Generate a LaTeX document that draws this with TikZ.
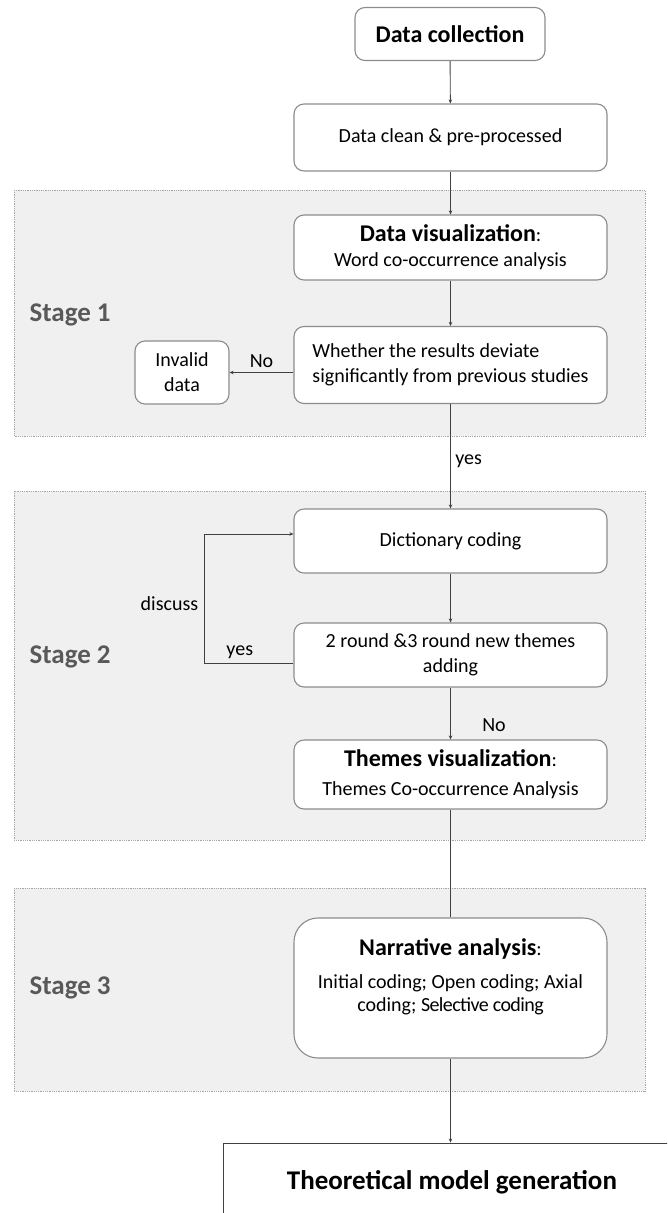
\documentclass[tikz,border=0pt]{standalone}
\usepackage{fontspec}
\setmainfont{Carlito}
\usetikzlibrary{arrows.meta}
\definecolor{panelfill}{HTML}{F0F0F0}
\definecolor{panelline}{HTML}{A6A6A6}
\definecolor{boxline}{HTML}{8C8C8C}
\definecolor{linkline}{HTML}{404040}
\definecolor{stagetext}{HTML}{595959}
\begin{document}
\begin{tikzpicture}[x=1pt,y=-1pt,
  panel/.style={fill=panelfill,draw=panelline,densely dotted,line width=0.8pt},
  stepbox/.style={draw=boxline,fill=white,line width=1.1pt,rounded corners=10pt,
    minimum width=313pt,inner sep=0pt,align=center,font=\fontsize{20}{25}\selectfont},
  stagelabel/.style={font=\fontsize{27}{30}\selectfont\bfseries,text=stagetext,anchor=west},
  lbl/.style={font=\fontsize{20}{22}\selectfont},
  link/.style={draw=linkline,line width=0.9pt},
  arr/.style={link,-{Stealth[length=4pt,width=3.5pt]}}
]
\useasboundingbox (0,0) rectangle (667,1213);
\clip (0,0) rectangle (667,1213);

% stage panels
\path[panel] (14,190) rectangle (645,436);
\path[panel] (14,491) rectangle (645,840);
\path[panel] (14,888) rectangle (645,1091);
\node[stagelabel] (s1) at (26,315) {Stage 1};
\node[stagelabel] (s2) at (26,657) {Stage 2};
\node[stagelabel] (s3) at (26,988) {Stage 3};

% process boxes
\node[stepbox,minimum width=190pt,minimum height=53pt,font=\fontsize{24}{26}\selectfont\bfseries]
  (collect) at (450,34) {Data collection};
\node[stepbox,minimum height=67pt] (clean) at (450.5,137.5) {Data clean \& pre-processed};
\node[stepbox,minimum height=65pt] (wvis) at (450.5,247.5)
  {{\fontsize{24}{25}\selectfont\bfseries Data visualization}:\\ Word co-occurrence analysis};
\node[stepbox,minimum height=77pt,align=left] (deviate) at (450.5,365)
  {Whether the results deviate\\significantly from previous studies};
\node[stepbox,minimum width=94pt,minimum height=63pt] (invalid) at (182,372.5) {Invalid\\data};
\node[stepbox,minimum height=64pt] (dict) at (450.5,541) {Dictionary coding};
\node[stepbox,minimum height=64pt] (rounds) at (450.5,655) {2 round \&3 round new themes\\adding};
\node[stepbox,minimum height=69pt] (tvis) at (450.5,774.5)
  {{\fontsize{24}{26}\selectfont\bfseries Themes visualization}:\\[4pt] Themes Co-occurrence Analysis};
\node[stepbox,minimum height=140pt,rounded corners=24pt] (narr) at (450.5,988) {};
\node[align=center,font=\fontsize{20}{23}\selectfont,anchor=north] (narrtext) at (450.5,935)
  {{\fontsize{24}{26}\selectfont\bfseries Narrative analysis}:\\[10pt]
   Initial coding; Open coding; Axial\\coding; {\addfontfeatures{LetterSpace=-3}Selective coding}};
\node[draw=linkline,fill=white,line width=0.9pt,minimum width=480pt,minimum height=120pt,
  inner sep=0pt] (theory) at (463,1203) {};
\node[font=\fontsize{27}{30}\selectfont\bfseries] (theorytext) at (452,1182) {Theoretical model generation};

% connectors
\coordinate (loopx) at (204,0);
\draw[arr] (collect) -- (clean);
\draw[arr] (clean) -- (wvis);
\draw[arr] (wvis) -- (deviate);
\draw[arr] (deviate.west |- invalid.east) -- node[lbl,above,yshift=1pt] (no1) {No} (invalid.east);
\draw[arr] (deviate) -- node[lbl,right,pos=0.55,xshift=1pt] (yes1) {yes} (dict);
\draw[arr] (dict) -- (rounds);
\draw[arr] ([yshift=-8pt]rounds.west) -- node[lbl,above,pos=0.6,yshift=1pt] (yes2) {yes}
  ([yshift=-8pt]loopx |- rounds.west) -- node[lbl,left,pos=0.46,xshift=-2pt] (disc) {discuss}
  ([yshift=7pt]loopx |- dict.west) -- ([yshift=7pt]dict.west);
\draw[arr] (rounds) -- node[lbl,right,pos=0.72,xshift=28pt] (no2) {No} (tvis);
\draw[link] (tvis) -- (narr);
\draw[arr] (narr.south) -- (narr.south |- theory.north);
\end{tikzpicture}
\end{document}
